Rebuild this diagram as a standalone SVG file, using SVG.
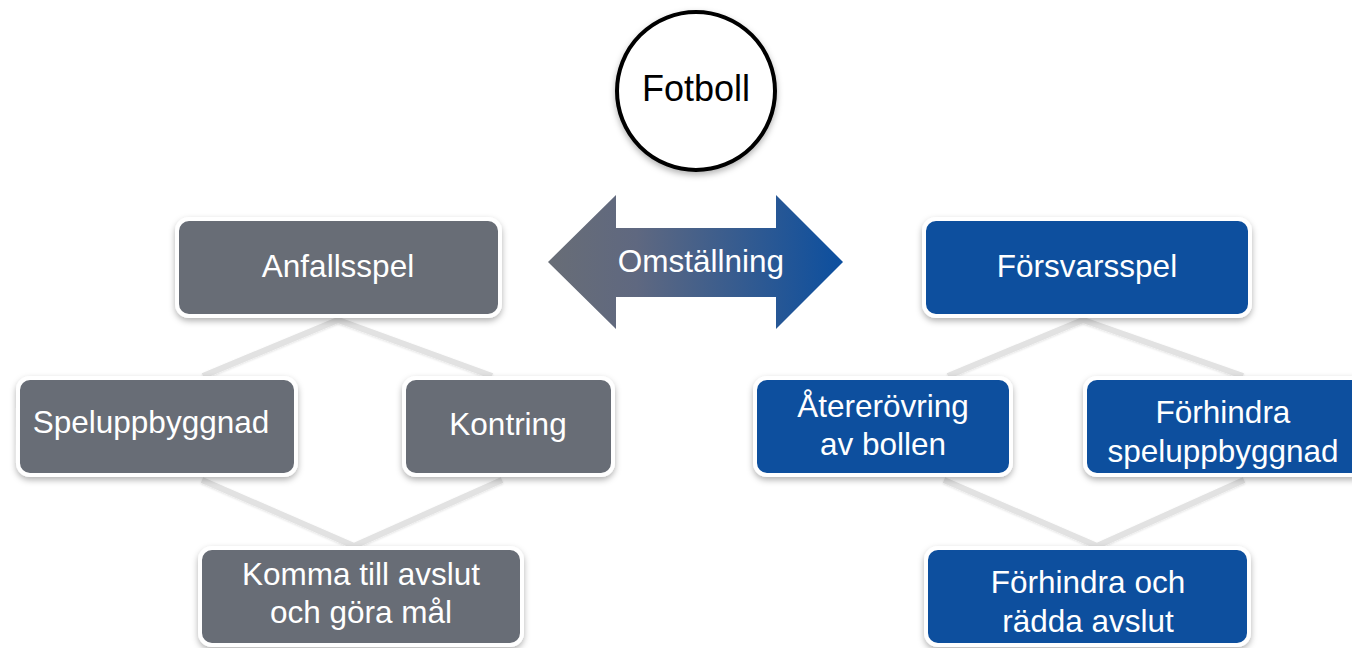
<svg xmlns="http://www.w3.org/2000/svg" width="1352" height="648" viewBox="0 0 1352 648">
<defs>
<filter id="sh" x="-10%" y="-10%" width="120%" height="130%">
<feDropShadow dx="0" dy="3" stdDeviation="3" flood-color="#000" flood-opacity="0.3"/>
</filter>
<filter id="lsh" x="-10%" y="-10%" width="120%" height="130%">
<feDropShadow dx="0" dy="1" stdDeviation="1" flood-color="#000" flood-opacity="0.12"/>
</filter>
<linearGradient id="arrowGrad" x1="548" y1="0" x2="843" y2="0" gradientUnits="userSpaceOnUse">
<stop offset="0" stop-color="#686d76"/>
<stop offset="0.3" stop-color="#5f6880"/>
<stop offset="1" stop-color="#0c4f9f"/>
</linearGradient>
</defs>
<style>
.grey{fill:#686d76;stroke:#fff;stroke-width:4;filter:url(#sh)}
.blue{fill:#0d4f9e;stroke:#fff;stroke-width:4;filter:url(#sh)}
.t{font-family:"Liberation Sans",Arial,sans-serif;font-size:31.5px;fill:#fff;text-anchor:middle}
.c{stroke:#e2e2e2;stroke-width:6;fill:none;stroke-linecap:butt;filter:url(#lsh)}
</style>
<rect width="1352" height="648" fill="#fff"/>
<g id="connectors">
<polyline class="c" points="203,376 338,320 492,376"/>
<polyline class="c" points="202,480 354,546 502,480"/>
<polyline class="c" points="948,376 1083,320 1243,376"/>
<polyline class="c" points="944,480 1097,546 1244,480"/>
</g>
<g id="fotboll">
<circle cx="696" cy="91" r="79" fill="#fff" stroke="#000" stroke-width="4" filter="url(#sh)"/>
<text x="696" y="101" font-family="Liberation Sans,Arial,sans-serif" font-size="36" fill="#000" text-anchor="middle">Fotboll</text>
</g>
<g id="omstallning">
<polygon points="548,262 616,195 616,228 776,228 776,195 843,262 776,329 776,297 616,297 616,329" fill="url(#arrowGrad)"/>
<text class="t" x="701" y="272">Omställning</text>
</g>
<g id="anfallsspel">
<rect class="grey" x="177" y="219" width="323" height="97" rx="12"/>
<text class="t" x="338" y="277">Anfallsspel</text>
</g>
<g id="speluppbyggnad">
<rect class="grey" x="18" y="378" width="278" height="97" rx="12"/>
<text class="t" x="151" y="433">Speluppbyggnad</text>
</g>
<g id="kontring">
<rect class="grey" x="404" y="378" width="209" height="97" rx="12"/>
<text class="t" x="508" y="435">Kontring</text>
</g>
<g id="komma">
<rect class="grey" x="200" y="548" width="322" height="97" rx="12"/>
<text class="t" x="361" y="585">Komma till avslut</text>
<text class="t" x="361" y="623">och göra mål</text>
</g>
<g id="forsvarsspel">
<rect class="blue" x="924" y="219" width="326" height="97" rx="12"/>
<text class="t" x="1087" y="277">Försvarsspel</text>
</g>
<g id="atererovring">
<rect class="blue" x="755" y="378" width="256" height="97" rx="12"/>
<text class="t" x="883" y="417">Återerövring</text>
<text class="t" x="883" y="455">av bollen</text>
</g>
<g id="forhindra-spel">
<rect class="blue" x="1085" y="378" width="280" height="97" rx="12"/>
<text class="t" x="1223" y="423">Förhindra</text>
<text class="t" x="1223" y="462">speluppbyggnad</text>
</g>
<g id="forhindra-avslut">
<rect class="blue" x="926" y="548" width="323" height="97" rx="12"/>
<text class="t" x="1088" y="593">Förhindra och</text>
<text class="t" x="1088" y="632">rädda avslut</text>
</g>
</svg>
